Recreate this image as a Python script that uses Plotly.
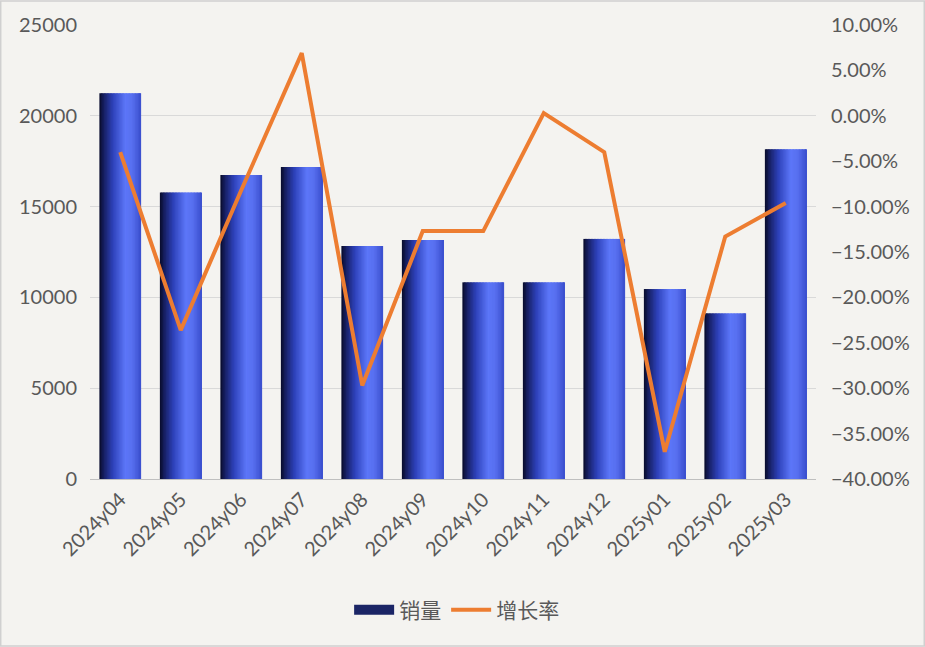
import plotly.graph_objects as go

# ---- data ----
months = ["2024y04", "2024y05", "2024y06", "2024y07", "2024y08", "2024y09",
          "2024y10", "2024y11", "2024y12", "2025y01", "2025y02", "2025y03"]
sales = [21240, 15770, 16740, 17180, 12830, 13160, 10830, 10830, 13220, 10460, 9120, 18160]
growth = [-0.040, -0.236, -0.082, 0.069, -0.297, -0.127, -0.127, 0.003, -0.040, -0.370, -0.133, -0.096]

# ---- styles ----
FONT = "Lato, 'Noto Sans CJK SC', sans-serif"
TXT = "#595959"
BAR_W = 0.69
N_SLICES = 28
# horizontal gradient stops across bar width (fraction, rgb)
STOPS = [(0.00, (8, 10, 40)), (0.10, (22, 30, 95)), (0.32, (45, 65, 185)),
         (0.62, (92, 118, 248)), (0.78, (88, 112, 240)), (1.00, (58, 78, 205))]


def grad(t):
    for (t0, c0), (t1, c1) in zip(STOPS[:-1], STOPS[1:]):
        if t0 <= t <= t1:
            f = (t - t0) / (t1 - t0)
            return "rgb(%d,%d,%d)" % tuple(round(a + (b - a) * f) for a, b in zip(c0, c1))
    return "rgb(%d,%d,%d)" % STOPS[-1][1]


fig = go.Figure()
step = BAR_W / N_SLICES
for i in range(N_SLICES):
    left = -BAR_W / 2 + i * step
    w = min(step * 1.6, BAR_W / 2 - left)
    fig.add_trace(go.Bar(
        x=months, y=sales, name="销量",
        offset=left, width=w,
        marker=dict(color=grad((i + 0.5) / N_SLICES), line=dict(width=0)),
        showlegend=False, legendgroup="sales",
    ))

# legend entry for bars (drawn as a thick short line = wide rectangle swatch)
fig.add_trace(go.Scatter(
    x=[months[0]], y=[None], name="销量", mode="lines",
    line=dict(color="#1b2566", width=14),
    showlegend=True, legendgroup="sales",
))

fig.add_trace(go.Scatter(
    x=months, y=growth, name="增长率", yaxis="y2", mode="lines",
    line=dict(color="#ED7D31", width=4),
))

fig.update_layout(
    width=925, height=647,
    margin=dict(l=90, r=109, t=25, b=168),
    paper_bgcolor="#F4F3F0", plot_bgcolor="rgba(0,0,0,0)",
    barmode="overlay",
    font=dict(family=FONT, size=20, color=TXT),
    xaxis=dict(
        type="category", tickangle=-45, showgrid=False,
        showline=True, linecolor="#BFBFBF", linewidth=1,
        ticks="", tickfont=dict(size=20, color=TXT),
    ),
    yaxis=dict(
        range=[0, 25000], dtick=5000, tickformat="d", showgrid=True,
        gridcolor="#D9D9D9", gridwidth=1, zeroline=False, ticks="",
        ticklabelstandoff=12, tickfont=dict(size=20, color=TXT),
    ),
    yaxis2=dict(
        overlaying="y", side="right", range=[-0.40, 0.10], dtick=0.05,
        tickformat=".2%", showgrid=False, zeroline=False, ticks="",
        ticklabelstandoff=14, tickfont=dict(size=20, color=TXT),
    ),
    legend=dict(
        orientation="h", x=0.505, xanchor="center", y=-0.289, yanchor="middle",
        font=dict(size=21, color=TXT), bgcolor="rgba(0,0,0,0)",
        traceorder="normal", itemwidth=40,
    ),
    shapes=[dict(
        type="rect", xref="paper", yref="paper",
        x0=-90 / 726 + 0.001, x1=1 + 109 / 726 - 0.001,
        y0=-168 / 454 + 0.002, y1=1 + 25 / 454 - 0.002,
        line=dict(color="#D0D0D0", width=1.5), layer="below",
    )],
)

fig.write_html(
    "out.html",
    config={"displayModeBar": False},
    post_script="document.body.style.margin='0';document.body.style.background='#F4F3F0';",
)
